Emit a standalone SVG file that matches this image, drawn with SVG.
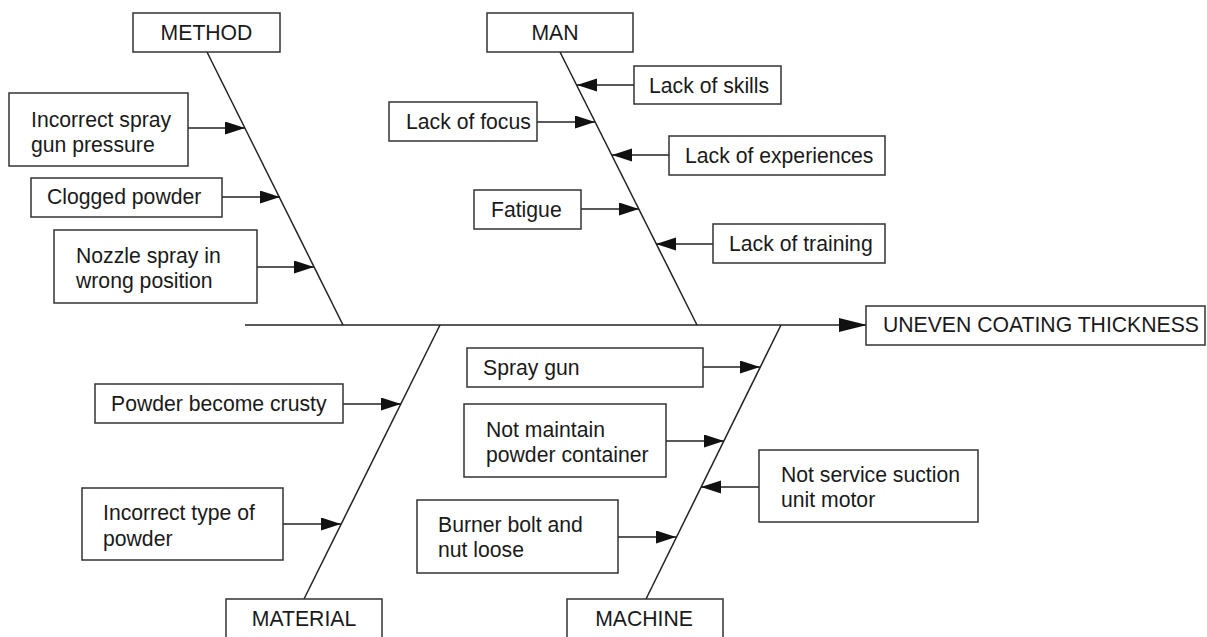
<svg xmlns="http://www.w3.org/2000/svg" width="1207" height="637" viewBox="0 0 1207 637">
<style>
.box{fill:#fff;stroke:#333;stroke-width:1.5}
.t{font-family:"Liberation Sans",Arial,sans-serif;font-size:21.2px;fill:#1a1a1a}
.bone{stroke:#222;stroke-width:1.5;fill:none}
.ar{stroke:#222;stroke-width:1.5;fill:none;marker-end:url(#ah)}
</style>
<defs>
<marker id="ah" markerUnits="userSpaceOnUse" markerWidth="22" markerHeight="14" refX="20" refY="6.5" orient="auto">
<path d="M0,0 L20,6.5 L0,13 Z" fill="#111"/>
</marker>
<marker id="ahbig" markerUnits="userSpaceOnUse" markerWidth="30" markerHeight="16" refX="28" refY="7" orient="auto">
<path d="M0,0 L28,7 L0,14 Z" fill="#111"/>
</marker>
</defs>
<rect width="1207" height="637" fill="#fff"/>
<g id="connectors">
<line class="bone" x1="245" y1="325" x2="867" y2="325" marker-end="url(#ahbig)"/>
<line class="bone" x1="207" y1="52" x2="343" y2="325"/>
<line class="bone" x1="560" y1="52" x2="697" y2="325"/>
<line class="bone" x1="440" y1="325" x2="304" y2="599"/>
<line class="bone" x1="781" y1="325" x2="646" y2="599"/>
<line class="ar" x1="188" y1="128" x2="245" y2="128"/>
<line class="ar" x1="222" y1="197" x2="280" y2="197"/>
<line class="ar" x1="257" y1="267" x2="314" y2="267"/>
<line class="ar" x1="634" y1="85" x2="577" y2="85"/>
<line class="ar" x1="537" y1="122" x2="595" y2="122"/>
<line class="ar" x1="669" y1="155" x2="612" y2="155"/>
<line class="ar" x1="581" y1="209" x2="639" y2="209"/>
<line class="ar" x1="713" y1="244" x2="656" y2="244"/>
<line class="ar" x1="343" y1="404" x2="401" y2="404"/>
<line class="ar" x1="283" y1="524" x2="341" y2="524"/>
<line class="ar" x1="703" y1="367" x2="760" y2="367"/>
<line class="ar" x1="666" y1="441" x2="724" y2="441"/>
<line class="ar" x1="759" y1="487" x2="701" y2="487"/>
<line class="ar" x1="618" y1="537" x2="676" y2="537"/>
</g>
<g id="effect"><rect class="box" x="866" y="306" width="339" height="39"/><text class="t" x="883" y="332">UNEVEN COATING THICKNESS</text></g>
<g id="method"><rect class="box" x="133" y="13" width="147" height="39"/><text class="t" x="206.5" y="40" text-anchor="middle">METHOD</text></g>
<g id="man"><rect class="box" x="487" y="13" width="146" height="39"/><text class="t" x="555" y="40" text-anchor="middle">MAN</text></g>
<g id="material"><rect class="box" x="226" y="599" width="156" height="40"/><text class="t" x="304" y="626" text-anchor="middle">MATERIAL</text></g>
<g id="machine"><rect class="box" x="567" y="599" width="156" height="40"/><text class="t" x="644" y="626" text-anchor="middle">MACHINE</text></g>
<g id="c1"><rect class="box" x="9" y="93" width="179" height="73"/><text class="t" x="31" y="127">Incorrect spray</text><text class="t" x="31" y="152">gun pressure</text></g>
<g id="c2"><rect class="box" x="31" y="178" width="191" height="39"/><text class="t" x="47" y="204">Clogged powder</text></g>
<g id="c3"><rect class="box" x="54" y="230" width="203" height="73"/><text class="t" x="76" y="263">Nozzle spray in</text><text class="t" x="76" y="288">wrong position</text></g>
<g id="c4"><rect class="box" x="634" y="66" width="147" height="38"/><text class="t" x="649" y="93">Lack of skills</text></g>
<g id="c5"><rect class="box" x="389" y="102" width="148" height="39"/><text class="t" x="406" y="129">Lack of focus</text></g>
<g id="c6"><rect class="box" x="669" y="136" width="216" height="39"/><text class="t" x="685" y="163">Lack of experiences</text></g>
<g id="c7"><rect class="box" x="474" y="190" width="107" height="39"/><text class="t" x="491" y="217">Fatigue</text></g>
<g id="c8"><rect class="box" x="713" y="224" width="172" height="39"/><text class="t" x="729" y="251">Lack of training</text></g>
<g id="c9"><rect class="box" x="95" y="384" width="248" height="39"/><text class="t" x="111" y="411">Powder become crusty</text></g>
<g id="c10"><rect class="box" x="82" y="488" width="201" height="72"/><text class="t" x="103" y="520">Incorrect type of</text><text class="t" x="103" y="546">powder</text></g>
<g id="c11"><rect class="box" x="467" y="348" width="236" height="39"/><text class="t" x="483" y="375">Spray gun</text></g>
<g id="c12"><rect class="box" x="464" y="404" width="202" height="73"/><text class="t" x="486" y="437">Not maintain</text><text class="t" x="486" y="462">powder container</text></g>
<g id="c13"><rect class="box" x="759" y="450" width="219" height="72"/><text class="t" x="781" y="482">Not service suction</text><text class="t" x="781" y="507">unit motor</text></g>
<g id="c14"><rect class="box" x="417" y="500" width="201" height="73"/><text class="t" x="438" y="532">Burner bolt and</text><text class="t" x="438" y="557">nut loose</text></g>
</svg>
